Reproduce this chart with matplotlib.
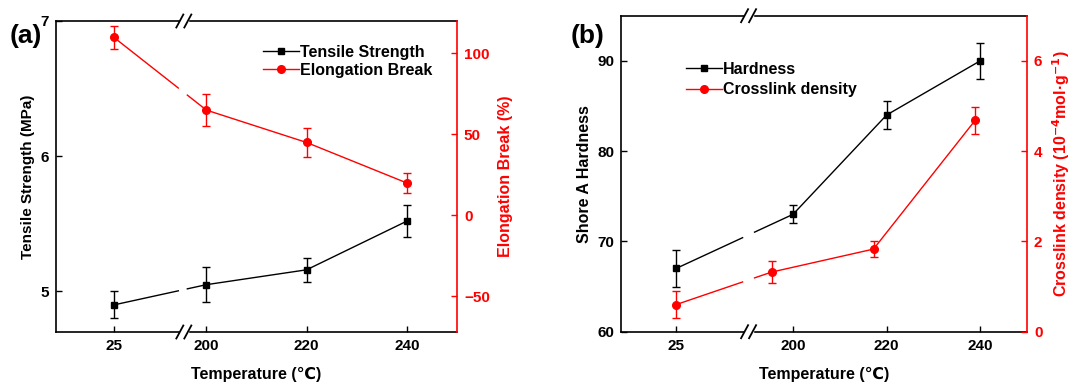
import numpy as np
import matplotlib.pyplot as plt
from matplotlib.lines import Line2D

plt.rcParams['font.family'] = ['Liberation Sans', 'DejaVu Sans']
plt.rcParams['font.weight'] = 'bold'
plt.rcParams['axes.labelweight'] = 'bold'

# ---- data ----
temps = [25, 200, 220, 240]
temp_labels = ['25', '200', '220', '240']

tensile = [4.90, 5.05, 5.16, 5.52]
tensile_err = [0.10, 0.13, 0.09, 0.12]
elongation = [110, 65, 45, 20]
elongation_err = [7, 10, 9, 6]

hardness = [67, 73, 84, 90]
hardness_err = [2, 1, 1.5, 2]
crosslink_temps = [25, 195.4, 217.2, 238.9]
crosslink = [0.60, 1.32, 1.83, 4.68]
crosslink_err = [0.30, 0.24, 0.17, 0.30]

RED = '#ff0000'
W, H = 1086, 382


def to_axis(t, low_pos):
    # 25 sits left of the axis break, the rest on a linear scale
    return [low_pos if v < 100 else v for v in t]


def broken_line(ax, xs, ys, xb, half, **kw):
    x0, x1 = xs[0], xs[1]
    y0, y1 = ys[0], ys[1]
    ya = y0 + (y1 - y0) * (xb - half - x0) / (x1 - x0)
    yb = y0 + (y1 - y0) * (xb + half - x0) / (x1 - x0)
    px = [x0, xb - half, np.nan, xb + half] + list(xs[1:])
    py = [y0, ya, np.nan, yb] + list(ys[1:])
    ax.plot(px, py, **kw)


def axis_break(ax, xb, ppx, ppy):
    # ppx / ppy : data units per pixel in x and axes fraction per pixel in y
    tr = ax.get_xaxis_transform()
    for yy in (0, 1):
        ax.add_patch(plt.Rectangle((xb - 4 * ppx, yy - 2 * ppy), 8 * ppx, 4 * ppy,
                                   transform=tr, color='white', clip_on=False, zorder=10))
        for dx in (-4, 4):
            ax.plot([xb + (dx - 3.5) * ppx, xb + (dx + 3.5) * ppx],
                    [yy - 6.5 * ppy, yy + 6.5 * ppy], color='black', lw=1.3,
                    transform=tr, clip_on=False, zorder=11)


def style(ax, axr):
    for a in (ax, axr):
        a.tick_params(direction='in', length=4, width=1, labelsize=11, pad=5)
    ax.spines['right'].set_visible(False)
    for s in ('left', 'top', 'bottom'):
        axr.spines[s].set_visible(False)
        ax.spines[s].set_linewidth(1.2)
    axr.spines['right'].set_color(RED)
    axr.spines['right'].set_linewidth(1.2)
    axr.tick_params(axis='y', colors=RED)
    ax.tick_params(top=False)


fig = plt.figure(figsize=(W / 100, H / 100), dpi=100)

# ---- panel (a) ----
ax1 = fig.add_axes([56 / W, 1 - 332 / H, 401 / W, 311 / H])
ax1r = ax1.twinx()
xa = to_axis(temps, 181.5)
ax1.set_xlim(170, 250)
ax1.set_ylim(4.7, 7.0)
ax1r.set_ylim(-72, 120)
style(ax1, ax1r)

broken_line(ax1, xa, tensile, 195.3, 0.9, color='black', lw=1)
ax1.errorbar(xa, tensile, yerr=tensile_err, fmt='s', color='black', ms=5,
             capsize=3, elinewidth=1, capthick=1)
broken_line(ax1r, xa, elongation, 195.3, 0.9, color=RED, lw=1)
ax1r.errorbar(xa, elongation, yerr=elongation_err, fmt='o', color=RED, ms=5.5,
              capsize=3, elinewidth=1, capthick=1)

ax1.set_xticks(xa)
ax1.set_xticklabels(temp_labels)
ax1.set_yticks([5, 6, 7])
ax1r.set_yticks([-50, 0, 50, 100])
ax1.set_xlabel('Temperature (℃)', fontsize=11.5, labelpad=10)
ax1.set_ylabel('Tensile Strength (MPa)', fontsize=11)
ax1r.set_ylabel('Elongation Break (%)', fontsize=11.5, color=RED, labelpad=6)
axis_break(ax1r, 195.5, 80 / 401, 1 / 311)

h1 = [Line2D([], [], color='black', marker='s', ms=5, lw=1),
      Line2D([], [], color=RED, marker='o', ms=5.5, lw=1)]
ax1r.legend(h1, ['Tensile Strength', 'Elongation Break'], loc='upper right',
            bbox_to_anchor=(0.975, 0.97), frameon=False, fontsize=11.5,
            handlelength=2.2, handletextpad=0.1, labelspacing=0.2)
fig.text(10 / W, 1 - 36 / H, '(a)', fontsize=19, va='center', ha='left')

# ---- panel (b) ----
ax2 = fig.add_axes([621.3 / W, 1 - 331.7 / H, 405.7 / W, 316 / H])
ax2r = ax2.twinx()
xb = to_axis(temps, 175)
xc = to_axis(crosslink_temps, 175)
ax2.set_xlim(163.3, 250)
ax2.set_ylim(60, 95)
ax2r.set_ylim(0, 7)
style(ax2, ax2r)

broken_line(ax2, xb, hardness, 190.5, 1.28, color='black', lw=1)
ax2.errorbar(xb, hardness, yerr=hardness_err, fmt='s', color='black', ms=5,
             capsize=3, elinewidth=1, capthick=1)
broken_line(ax2r, xc, crosslink, 190.5, 1.28, color=RED, lw=1)
ax2r.errorbar(xc, crosslink, yerr=crosslink_err, fmt='o', color=RED, ms=5.5,
              capsize=3, elinewidth=1, capthick=1)

ax2.set_xticks(xb)
ax2.set_xticklabels(temp_labels)
ax2.set_yticks([60, 70, 80, 90])
ax2r.set_yticks([0, 2, 4, 6])
ax2.set_xlabel('Temperature (℃)', fontsize=11.5, labelpad=10)
ax2.set_ylabel('Shore A Hardness', fontsize=11.5)
ax2r.set_ylabel('Crosslink density (10$^{\\mathbf{-4}}$mol·g$^{\\mathbf{-1}}$)',
                fontsize=11.5, color=RED, labelpad=6)
axis_break(ax2r, 190.5, 86.7 / 405.7, 1 / 316)

h2 = [Line2D([], [], color='black', marker='s', ms=5, lw=1),
      Line2D([], [], color=RED, marker='o', ms=5.5, lw=1)]
ax2r.legend(h2, ['Hardness', 'Crosslink density'], loc='upper left',
            bbox_to_anchor=(0.125, 0.9), frameon=False, fontsize=11.5,
            handlelength=2.2, handletextpad=0.1, labelspacing=0.35)
fig.text(571 / W, 1 - 36 / H, '(b)', fontsize=19, va='center', ha='left')

fig.savefig('out.png', dpi=100)
